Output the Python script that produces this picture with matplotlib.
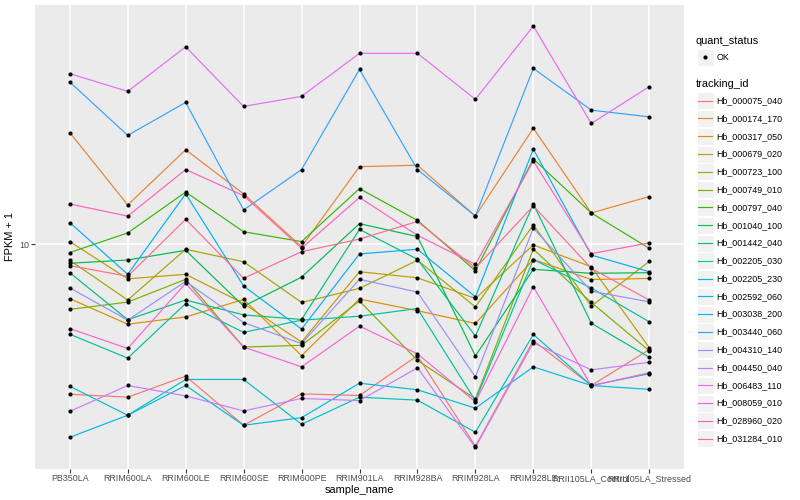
import numpy as np
import matplotlib
matplotlib.use("Agg")
import matplotlib.pyplot as plt
from matplotlib.patches import Rectangle
from matplotlib.lines import Line2D
from matplotlib.ticker import NullLocator, FixedLocator

plt.rcParams['font.family'] = ['Liberation Sans', 'DejaVu Sans']

samples = ["PB350LA", "RRIM600LA", "RRIM600LE", "RRIM600SE", "RRIM600PE",
           "RRIM901LA", "RRIM928BA", "RRIM928LA", "RRIM928LE",
           "RRII105LA_Control", "RRII105LA_Stressed"]

tracking_ids = ["Hb_000075_040", "Hb_000174_170", "Hb_000317_050", "Hb_000679_020",
                "Hb_000723_100", "Hb_000749_010", "Hb_000797_040", "Hb_001040_100",
                "Hb_001442_040", "Hb_002205_030", "Hb_002205_230", "Hb_002592_060",
                "Hb_003038_200", "Hb_003440_060", "Hb_004310_140", "Hb_004450_040",
                "Hb_006483_110", "Hb_008059_010", "Hb_028960_020", "Hb_031284_010"]

# FPKM + 1 per sample
Hb_000075_040 = [3.17, 3.10, 3.64, 2.50, 3.18, 3.14, 4.26, 2.13, 4.78, 3.39, 4.46]
Hb_000174_170 = [23.5, 13.5, 20.6, 14.7, 9.81, 18.1, 18.3, 12.4, 24.3, 12.7, 14.4]
Hb_000317_050 = [6.59, 5.42, 5.73, 6.55, 4.26, 6.57, 6.01, 5.45, 8.89, 7.63, 7.69]
Hb_000679_020 = [10.2, 7.67, 7.94, 6.35, 4.73, 8.10, 7.73, 6.60, 9.94, 8.41, 4.53]
Hb_000723_100 = [8.84, 6.52, 9.62, 8.74, 6.40, 7.13, 8.84, 6.19, 11.6, 6.22, 8.76]
Hb_000749_010 = [6.07, 6.42, 7.64, 4.55, 4.61, 6.47, 4.11, 3.06, 9.62, 6.40, 4.42]
Hb_000797_040 = [9.38, 10.9, 14.9, 11.0, 10.2, 15.3, 12.0, 8.16, 19.2, 12.7, 9.69]
Hb_001040_100 = [8.64, 8.86, 9.54, 6.22, 7.77, 11.7, 10.6, 4.25, 8.25, 8.00, 8.04]
Hb_001442_040 = [8.04, 5.61, 6.52, 5.82, 5.62, 11.2, 8.91, 4.95, 13.6, 5.46, 4.21]
Hb_002205_030 = [5.02, 4.18, 6.35, 5.09, 5.59, 5.76, 6.11, 3.02, 8.89, 7.15, 5.52]
Hb_002205_230 = [3.37, 2.70, 3.55, 3.55, 2.52, 3.10, 3.03, 2.37, 5.01, 3.39, 3.71]
Hb_002592_060 = [2.28, 2.70, 3.39, 2.50, 2.65, 3.45, 3.28, 2.85, 3.91, 3.39, 3.29]
Hb_003038_200 = [11.8, 7.94, 14.7, 7.26, 5.22, 9.28, 9.62, 6.68, 20.7, 9.20, 8.10]
Hb_003440_060 = [34.6, 23.0, 29.6, 13.0, 17.7, 38.1, 17.7, 12.4, 38.4, 27.9, 26.5]
Hb_004310_140 = [7.16, 5.59, 7.52, 5.49, 4.67, 7.64, 6.93, 3.62, 11.3, 6.98, 6.43]
Hb_004450_040 = [2.78, 3.39, 3.13, 2.79, 3.07, 3.02, 3.88, 2.11, 4.70, 3.82, 4.05]
Hb_006483_110 = [36.9, 32.2, 45.3, 28.7, 31.0, 43.1, 43.1, 30.3, 53.1, 25.2, 33.4]
Hb_008059_010 = [5.24, 4.50, 7.41, 4.55, 3.91, 5.34, 4.32, 2.99, 7.22, 3.38, 3.74]
Hb_028960_020 = [13.6, 12.4, 17.7, 14.5, 9.69, 14.3, 10.7, 8.57, 18.9, 9.30, 10.1]
Hb_031284_010 = [8.49, 7.82, 12.1, 7.70, 9.44, 10.4, 11.9, 8.33, 13.4, 8.31, 6.52]

series = [Hb_000075_040, Hb_000174_170, Hb_000317_050, Hb_000679_020, Hb_000723_100,
          Hb_000749_010, Hb_000797_040, Hb_001040_100, Hb_001442_040, Hb_002205_030,
          Hb_002205_230, Hb_002592_060, Hb_003038_200, Hb_003440_060, Hb_004310_140,
          Hb_004450_040, Hb_006483_110, Hb_008059_010, Hb_028960_020, Hb_031284_010]

colors = ["#F8766D", "#EA8331", "#D89000", "#C09B00", "#A3A500", "#7CAE00", "#39B600",
          "#00BB4E", "#00BF7D", "#00C1A3", "#00BFC4", "#00BAE0", "#00B0F6", "#35A2FF",
          "#9590FF", "#C77CFF", "#E76BF3", "#FA62DB", "#FF62BC", "#FF6C91"]

W, H = 800, 500
fig = plt.figure(figsize=(8, 5), dpi=100)
fig.patch.set_facecolor('white')

L, R, T, B = 35, 684, 5, 468.5
ax = fig.add_axes([L / W, 1 - B / H, (R - L) / W, (B - T) / H])
ax.set_facecolor('#EBEBEB')
for s in ax.spines.values():
    s.set_visible(False)

x = np.arange(1, len(samples) + 1)
for vals, col in zip(series, colors):
    ax.plot(x, vals, color=col, lw=0.85, zorder=2, solid_capstyle='butt')
for vals in series:
    ax.plot(x, vals, 'o', color='black', ms=3.0, mew=0, zorder=3)

ax.set_yscale('log')
allv = np.concatenate([np.asarray(v, float) for v in series])
lo, hi = np.log10(allv.min()), np.log10(allv.max())
pad = 0.05 * (hi - lo)
ax.set_ylim(10 ** (lo - pad), 10 ** (hi + pad))
ax.set_xlim(0.4, len(samples) + 0.6)

ax.yaxis.set_major_locator(FixedLocator([10]))
ax.yaxis.set_minor_locator(NullLocator())
ax.set_yticklabels(['10'])
ax.set_xticks(x)
ax.set_xticklabels(samples)
ax.grid(True, which='major', color='white', lw=1.1)
ax.set_axisbelow(True)
ax.tick_params(axis='both', which='major', length=2.6, width=0.8, color='#333333',
               labelsize=6.4, labelcolor='#4D4D4D', pad=1.6)
ax.set_xlabel('sample_name', fontsize=7.9, color='black', labelpad=1.5)
ax.set_ylabel('FPKM + 1', fontsize=7.9, color='black', labelpad=3)

# legend overlay in pixel coordinates
ov = fig.add_axes([0, 0, 1, 1], facecolor='none')
ov.set_xlim(0, W)
ov.set_ylim(H, 0)
ov.axis('off')

kx0, kw, kh = 696.5, 17, 17
ov.text(696, 40.7, 'quant_status', fontsize=7.9, va='center', ha='left')
ov.add_patch(Rectangle((kx0, 57.3 - kh / 2), kw, kh, facecolor='#F2F2F2', edgecolor='white', lw=0.8))
ov.plot([kx0 + kw / 2], [57.3], 'o', color='black', ms=3.0, mew=0)
ov.text(716.5, 57.3, 'OK', fontsize=6.4, va='center', ha='left')

ov.text(696, 84.3, 'tracking_id', fontsize=7.9, va='center', ha='left')
y0, dy = 100.7, 17.79
for i, (name, col) in enumerate(zip(tracking_ids, colors)):
    yc = y0 + dy * i
    ov.add_patch(Rectangle((kx0, yc - kh / 2), kw, kh, facecolor='#F2F2F2', edgecolor='white', lw=0.8))
    ov.add_line(Line2D([kx0 + 1.7, kx0 + kw - 1.7], [yc, yc], color=col, lw=0.85))
    ov.text(716.5, yc, name, fontsize=6.4, va='center', ha='left')

fig.savefig('out.png', dpi=100)
